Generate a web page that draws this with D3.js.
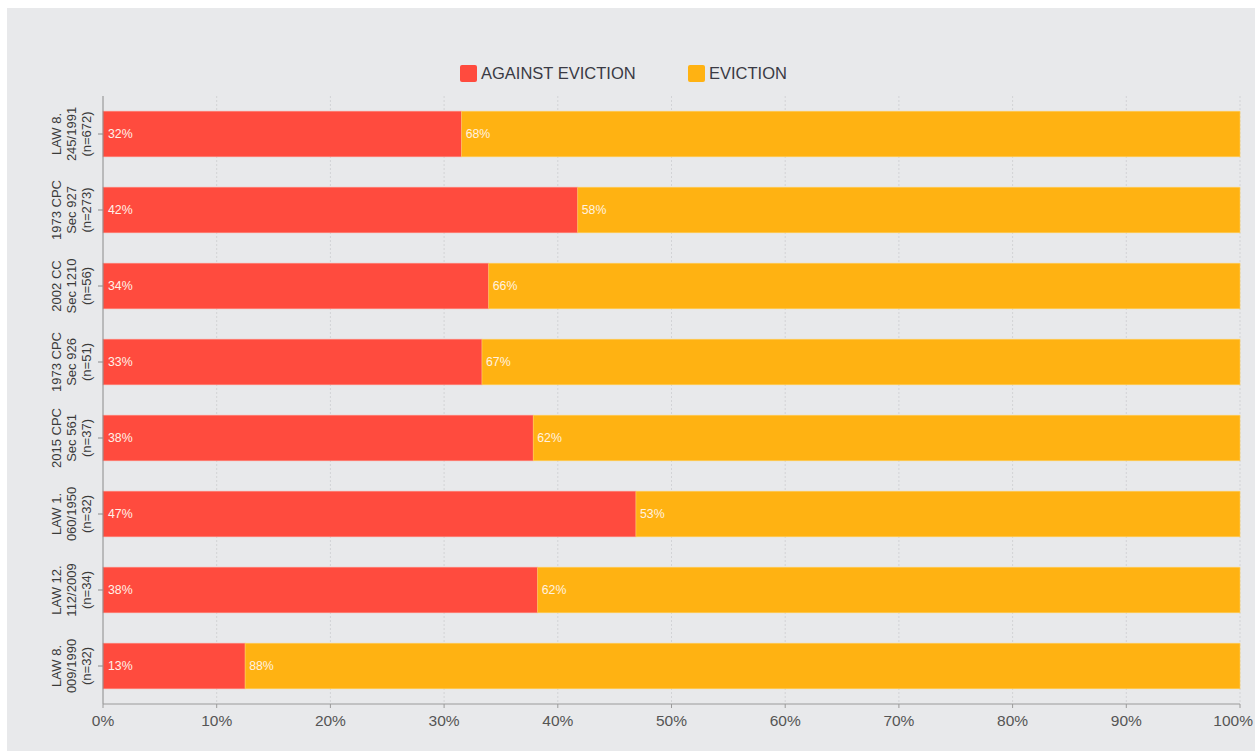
<!DOCTYPE html>
<html>
<head>
<meta charset="utf-8">
<script src="https://cdn.jsdelivr.net/npm/d3@7/dist/d3.min.js"></script>
<style>
  html, body { margin: 0; padding: 0; background: #ffffff; }
  svg { display: block; font-family: "Liberation Sans", Arial, sans-serif; }
</style>
</head>
<body>
<svg id="chart" width="1255" height="751"></svg>
<script>
// ---- data ----
const categories = [
  ["LAW 8.", "245/1991", "(n=672)"],
  ["1973 CPC", "Sec 927", "(n=273)"],
  ["2002 CC", "Sec 1210", "(n=56)"],
  ["1973 CPC", "Sec 926", "(n=51)"],
  ["2015 CPC", "Sec 561", "(n=37)"],
  ["LAW 1.", "060/1950", "(n=32)"],
  ["LAW 12.", "112/2009", "(n=34)"],
  ["LAW 8.", "009/1990", "(n=32)"]
];
const totals = [672, 273, 56, 51, 37, 32, 34, 32];
const againstCounts = [212, 114, 19, 17, 14, 15, 13, 4];
const seriesNames = ["AGAINST EVICTION", "EVICTION"];
const seriesColors = ["#ff4b3e", "#ffb212"];
const xTicks = [0, 0.1, 0.2, 0.3, 0.4, 0.5, 0.6, 0.7, 0.8, 0.9, 1.0];

// ---- layout ----
const svg = d3.select("#chart");
const W = 1255, H = 751;
const margin = { left: 103, right: 15, top: 96, bottom: 47 };

svg.append("rect").attr("x", 7).attr("y", 8).attr("width", W - 7).attr("height", H - 8)
  .attr("fill", "#e8e9eb");

const x = d3.scaleLinear().domain([0, 1]).range([margin.left, W - margin.right]);
const y = d3.scaleBand().domain(d3.range(categories.length))
  .range([margin.top, H - margin.bottom]).paddingInner(0.4).paddingOuter(0.2);

// gridlines
svg.append("g").selectAll("line").data(xTicks.slice(1)).join("line")
  .attr("x1", d => x(d)).attr("x2", d => x(d))
  .attr("y1", margin.top).attr("y2", H - margin.bottom)
  .attr("stroke", "#d2d3d6").attr("stroke-width", 1).attr("stroke-dasharray", "2,2");

const rows = totals.map((t, i) => {
  const a = againstCounts[i] / t;
  return { i, a, e: 1 - a };
});

// bars
const g = svg.append("g");
g.selectAll("rect.against").data(rows).join("rect").attr("class", "against")
  .attr("x", x(0)).attr("y", d => y(d.i))
  .attr("width", d => x(d.a) - x(0)).attr("height", y.bandwidth())
  .attr("fill", seriesColors[0]).attr("stroke", "#ff8a80").attr("stroke-width", 0.6);
g.selectAll("rect.evict").data(rows).join("rect").attr("class", "evict")
  .attr("x", d => x(d.a)).attr("y", d => y(d.i))
  .attr("width", d => x(1) - x(d.a)).attr("height", y.bandwidth())
  .attr("fill", seriesColors[1]).attr("stroke", "#ffd060").attr("stroke-width", 0.6);

// value labels
const fmt = v => Math.round(v * 100) + "%";
g.selectAll("text.la").data(rows).join("text").attr("class", "la")
  .attr("x", x(0) + 5).attr("y", d => y(d.i) + y.bandwidth() / 2)
  .attr("dy", "0.35em").attr("font-size", 12.3).attr("fill", "#fff2e8")
  .text(d => fmt(d.a));
g.selectAll("text.le").data(rows).join("text").attr("class", "le")
  .attr("x", d => x(d.a) + 4).attr("y", d => y(d.i) + y.bandwidth() / 2)
  .attr("dy", "0.35em").attr("font-size", 12.3).attr("fill", "#fff2e0")
  .text(d => fmt(d.e));

// y axis
const yAxis = svg.append("g");
yAxis.append("line").attr("x1", x(0)).attr("x2", x(0))
  .attr("y1", margin.top).attr("y2", H - margin.bottom)
  .attr("stroke", "#8a8a8a").attr("stroke-width", 1);
yAxis.selectAll("line.tk").data(rows).join("line").attr("class", "tk")
  .attr("x1", x(0) - 5).attr("x2", x(0))
  .attr("y1", d => y(d.i) + y.bandwidth() / 2).attr("y2", d => y(d.i) + y.bandwidth() / 2)
  .attr("stroke", "#8a8a8a");
const yl = yAxis.selectAll("g.yl").data(rows).join("g").attr("class", "yl")
  .attr("transform", d => `translate(61, ${y(d.i) + y.bandwidth() / 2}) rotate(-90)`);
yl.each(function(d) {
  const t = d3.select(this).append("text").attr("text-anchor", "middle")
    .attr("font-size", 13).attr("fill", "#3a3a3a");
  categories[d.i].forEach((line, k) => {
    t.append("tspan").attr("x", 0).attr("y", k * 15).text(line);
  });
});

// x axis
const xAxis = svg.append("g");
xAxis.append("line").attr("x1", x(0)).attr("x2", x(1))
  .attr("y1", H - margin.bottom).attr("y2", H - margin.bottom)
  .attr("stroke", "#9a9a9a");
xAxis.selectAll("line.tk").data(xTicks).join("line").attr("class", "tk")
  .attr("x1", d => x(d)).attr("x2", d => x(d))
  .attr("y1", H - margin.bottom).attr("y2", H - margin.bottom + 4)
  .attr("stroke", "#9a9a9a");
xAxis.selectAll("text").data(xTicks).join("text")
  .attr("x", (d, i) => i === xTicks.length - 1 ? W - 2 : x(d))
  .attr("y", H - margin.bottom + 22)
  .attr("text-anchor", (d, i) => i === xTicks.length - 1 ? "end" : "middle")
  .attr("font-size", 15.5).attr("fill", "#555")
  .text(d => Math.round(d * 100) + "%");

// legend
const legendX = [460, 688];
const lg = svg.append("g");
seriesNames.forEach((name, k) => {
  lg.append("rect").attr("x", legendX[k]).attr("y", 65).attr("width", 17).attr("height", 17)
    .attr("rx", 2).attr("fill", seriesColors[k]);
  lg.append("text").attr("x", legendX[k] + 21).attr("y", 73.5).attr("dy", "0.35em")
    .attr("font-size", 16.5).attr("fill", "#3a3a44").text(name);
});
</script>
</body>
</html>
